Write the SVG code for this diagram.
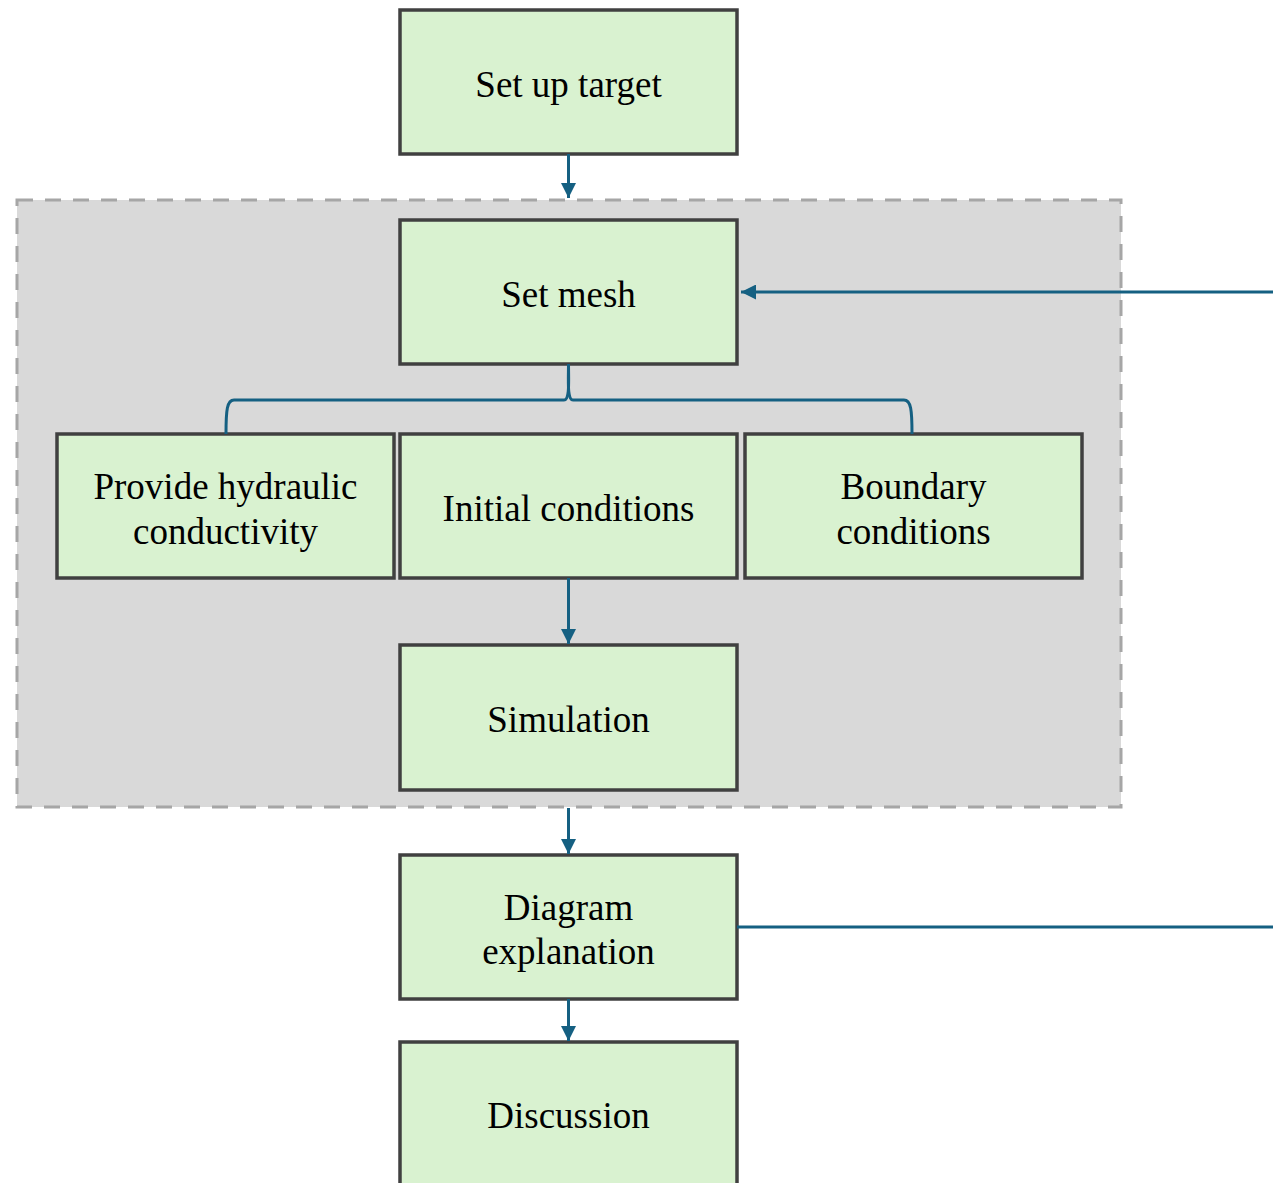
<svg xmlns="http://www.w3.org/2000/svg" width="1273" height="1183" viewBox="0 0 1273 1183">
<defs>
<style>
.node rect{fill:#d9f2d0;stroke:#404040;stroke-width:3.5}
.node text{font-family:"Liberation Serif","Times New Roman",serif;font-size:37px;fill:#000;text-anchor:middle;dominant-baseline:central}
.conn{fill:none;stroke:#156082;stroke-width:3}
</style>
<marker id="ah" viewBox="0 0 10 10" refX="10" refY="5" markerWidth="5" markerHeight="5" orient="auto" markerUnits="strokeWidth">
<path d="M0,0 L10,5 L0,10 z" fill="#156082"/>
</marker>
</defs>
<rect width="1273" height="1183" fill="#fff"/>
<g id="container">
<rect x="17" y="200" width="1104" height="607" fill="#d9d9d9" stroke="#a6a6a6" stroke-width="3" stroke-dasharray="16,12"/>
</g>
<g id="n-target" class="node"><rect x="400" y="10" width="337" height="144"/><text x="568.5" y="84">Set up target</text></g>
<g id="n-mesh" class="node"><rect x="400" y="220" width="337" height="144"/><text x="568.5" y="294">Set mesh</text></g>
<g id="n-hydraulic" class="node"><rect x="57" y="434" width="337" height="144"/><text x="225.5" y="486">Provide hydraulic</text><text x="225.5" y="531">conductivity</text></g>
<g id="n-initial" class="node"><rect x="400" y="434" width="337" height="144"/><text x="568.5" y="508">Initial conditions</text></g>
<g id="n-boundary" class="node"><rect x="745" y="434" width="337" height="144"/><text x="913.5" y="486">Boundary</text><text x="913.5" y="531">conditions</text></g>
<g id="n-simulation" class="node"><rect x="400" y="645" width="337" height="145"/><text x="568.5" y="719">Simulation</text></g>
<g id="n-diagram" class="node"><rect x="400" y="855" width="337" height="144"/><text x="568.5" y="907">Diagram</text><text x="568.5" y="951">explanation</text></g>
<g id="n-discussion" class="node"><rect x="400" y="1042" width="337" height="150"/><text x="568.5" y="1115">Discussion</text></g>
<g id="connectors">
<path class="conn" d="M568.5,154 V198" marker-end="url(#ah)"/>
<path class="conn" d="M568.5,364 C568.5,380 570,400 564,400 H234 C227,400 226,410 226,434"/>
<path class="conn" d="M568.5,364 C568.5,380 567,400 573,400 H904 C911,400 912,410 912,434"/>
<path class="conn" d="M1273,292 H741" marker-end="url(#ah)"/>
<path class="conn" d="M568.5,578 V644" marker-end="url(#ah)"/>
<path class="conn" d="M568.5,808 V854" marker-end="url(#ah)"/>
<path class="conn" d="M737,927 H1273"/>
<path class="conn" d="M568.5,999 V1041" marker-end="url(#ah)"/>
</g>
</svg>
